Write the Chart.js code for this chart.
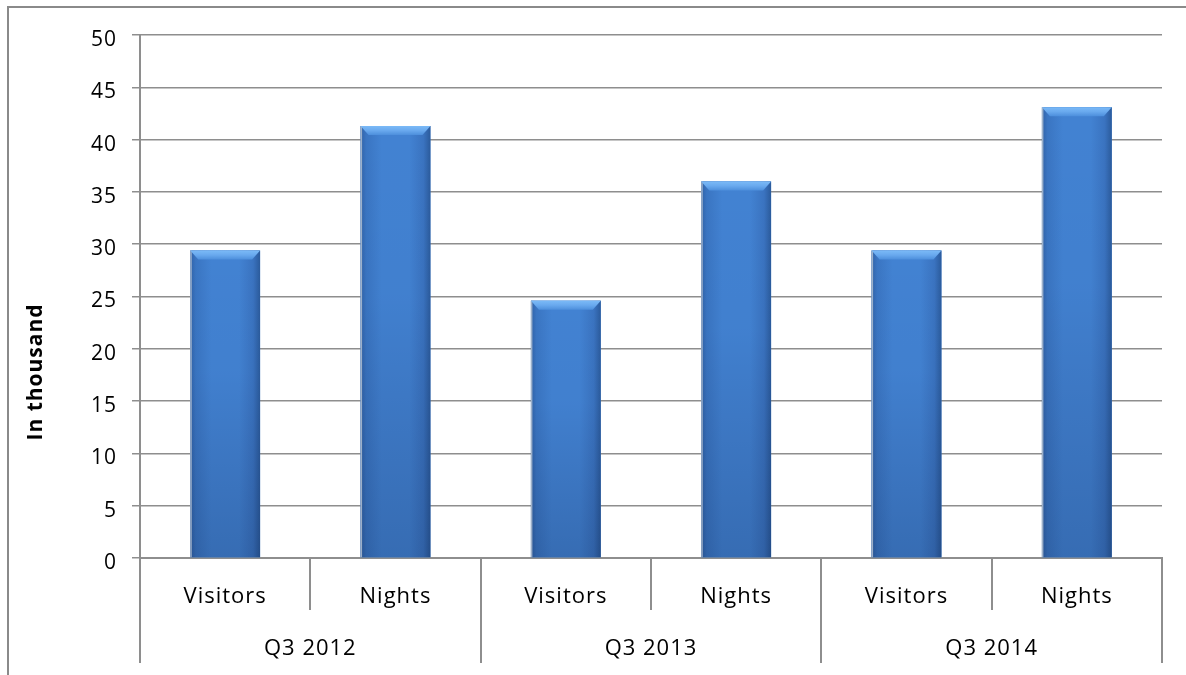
<!DOCTYPE html>
<html>
<head>
<meta charset="utf-8">
<script src="https://cdn.jsdelivr.net/npm/chart.js@4.4.0/dist/chart.umd.min.js"></script>
<style>
html,body{margin:0;padding:0;background:#fff;overflow:hidden;}
#frame{position:absolute;left:7px;top:6px;width:1300px;height:800px;border-top:2px solid #8a8a8a;border-left:2px solid #8a8a8a;}
#wrap{position:absolute;left:0;top:0;width:1186px;height:675px;}
</style>
</head>
<body>
<div id="frame"></div>
<div id="wrap"><canvas id="c" width="1186" height="675"></canvas></div>
<script>
const categories = ["Visitors","Nights","Visitors","Nights","Visitors","Nights"];
const groups = ["Q3 2012","Q3 2013","Q3 2014"];
const values = [29.4, 41.3, 24.6, 36.0, 29.4, 43.1];
const yTicks = [0,5,10,15,20,25,30,35,40,45,50];
const yTitle = "In thousand";

const FONT = "'Open Sans', 'DejaVu Sans', sans-serif";
const GRID = '#8e8e8e';

const spacing = {
  id: 'spacing',
  beforeUpdate(chart) { chart.ctx.letterSpacing = '1px'; },
  beforeDraw(chart) { chart.ctx.letterSpacing = '1px'; }
};

const yTitlePlugin = {
  id: 'yTitlePlugin',
  afterDraw(chart) {
    const ctx = chart.ctx;
    const y = chart.scales.y;
    ctx.save();
    ctx.letterSpacing = '1px';
    ctx.translate(y.left + 36, (y.top + chart.scales.x2.bottom) / 2 + 23);
    ctx.rotate(-Math.PI / 2);
    ctx.font = "bold 21px " + FONT;
    ctx.fillStyle = '#000';
    ctx.textAlign = 'center';
    ctx.textBaseline = 'middle';
    ctx.fillText(yTitle, 0, 0);
    ctx.restore();
  }
};

const barDeco = {
  id: 'barDeco',
  afterDatasetDraw(chart, args) {
    const meta = args.meta;
    const ctx = chart.ctx;
    meta.data.forEach(bar => {
      const l = bar.x - bar.width/2, r = bar.x + bar.width/2;
      const t = bar.y, b = bar.base, w = r - l;
      ctx.save();
      let g = ctx.createLinearGradient(l, 0, r, 0);
      g.addColorStop(0, '#2f62a8');
      g.addColorStop(0.08, '#3a75c2');
      g.addColorStop(0.3, '#4282d2');
      g.addColorStop(0.7, '#4282d2');
      g.addColorStop(0.9, '#3a73c0');
      g.addColorStop(1, '#2b5b9c');
      ctx.fillStyle = g;
      ctx.fillRect(l, t, w, b - t);
      let v = ctx.createLinearGradient(0, t, 0, b);
      v.addColorStop(0, 'rgba(0,0,30,0)');
      v.addColorStop(0.4, 'rgba(0,0,30,0.02)');
      v.addColorStop(1, 'rgba(0,10,40,0.18)');
      ctx.fillStyle = v;
      ctx.fillRect(l, t, w, b - t);
      ctx.fillStyle = 'rgba(170,185,205,0.9)';
      ctx.fillRect(l, t, 1.5, b - t);
      const bh = 9, inset = 8;
      ctx.beginPath();
      ctx.moveTo(l, t);
      ctx.lineTo(r, t);
      ctx.lineTo(r - inset, t + bh);
      ctx.lineTo(l + inset, t + bh);
      ctx.closePath();
      let tg = ctx.createLinearGradient(0, t, 0, t + bh);
      tg.addColorStop(0, '#7bbaf7');
      tg.addColorStop(0.5, '#69a9ee');
      tg.addColorStop(1, '#4d8fdc');
      ctx.fillStyle = tg;
      ctx.fill();
      ctx.restore();
    });
  }
};

new Chart(document.getElementById('c'), {
  type: 'bar',
  data: {
    labels: categories,
    datasets: [{
      data: values,
      backgroundColor: '#4282d2',
      borderWidth: 0,
      barPercentage: 0.82,
      categoryPercentage: 0.5
    }]
  },
  options: {
    responsive: false,
    animation: false,
    devicePixelRatio: 1,
    layout: { padding: { left: 0, right: 24, top: 35, bottom: 12 } },
    plugins: { legend: { display: false }, tooltip: { enabled: false } },
    scales: {
      y: {
        min: 0, max: 50,
        afterFit(s) { s.width = 140; },
        afterBuildTicks(s) { s.ticks = yTicks.map(v => ({ value: v })); },
        ticks: {
          color: '#000', font: { family: FONT, size: 21, lineHeight: '10px' }, padding: 15,
          callback: (v) => ['', String(v)]
        },
        grid: { color: GRID, lineWidth: 1.5, tickLength: 8, tickColor: GRID },
        border: { display: true, color: GRID, width: 2 },
        title: { display: false }
      },
      x: {
        afterFit(s) { s.height = 52; },
        ticks: { color: '#000', font: { family: FONT, size: 22 }, padding: -26, maxRotation: 0 },
        grid: { offset: true, drawOnChartArea: false, tickLength: 52, color: GRID, lineWidth: 2 },
        border: { display: true, color: GRID, width: 2 }
      },
      x2: {
        type: 'category',
        position: 'bottom',
        labels: groups,
        afterFit(s) { s.height = 53; },
        ticks: { color: '#000', font: { family: FONT, size: 22 }, padding: -27, maxRotation: 0 },
        grid: { offset: true, drawOnChartArea: false, tickLength: 53, color: GRID, lineWidth: 2 },
        border: { display: false }
      }
    }
  },
  plugins: [spacing, barDeco, yTitlePlugin]
});
</script>
</body>
</html>
